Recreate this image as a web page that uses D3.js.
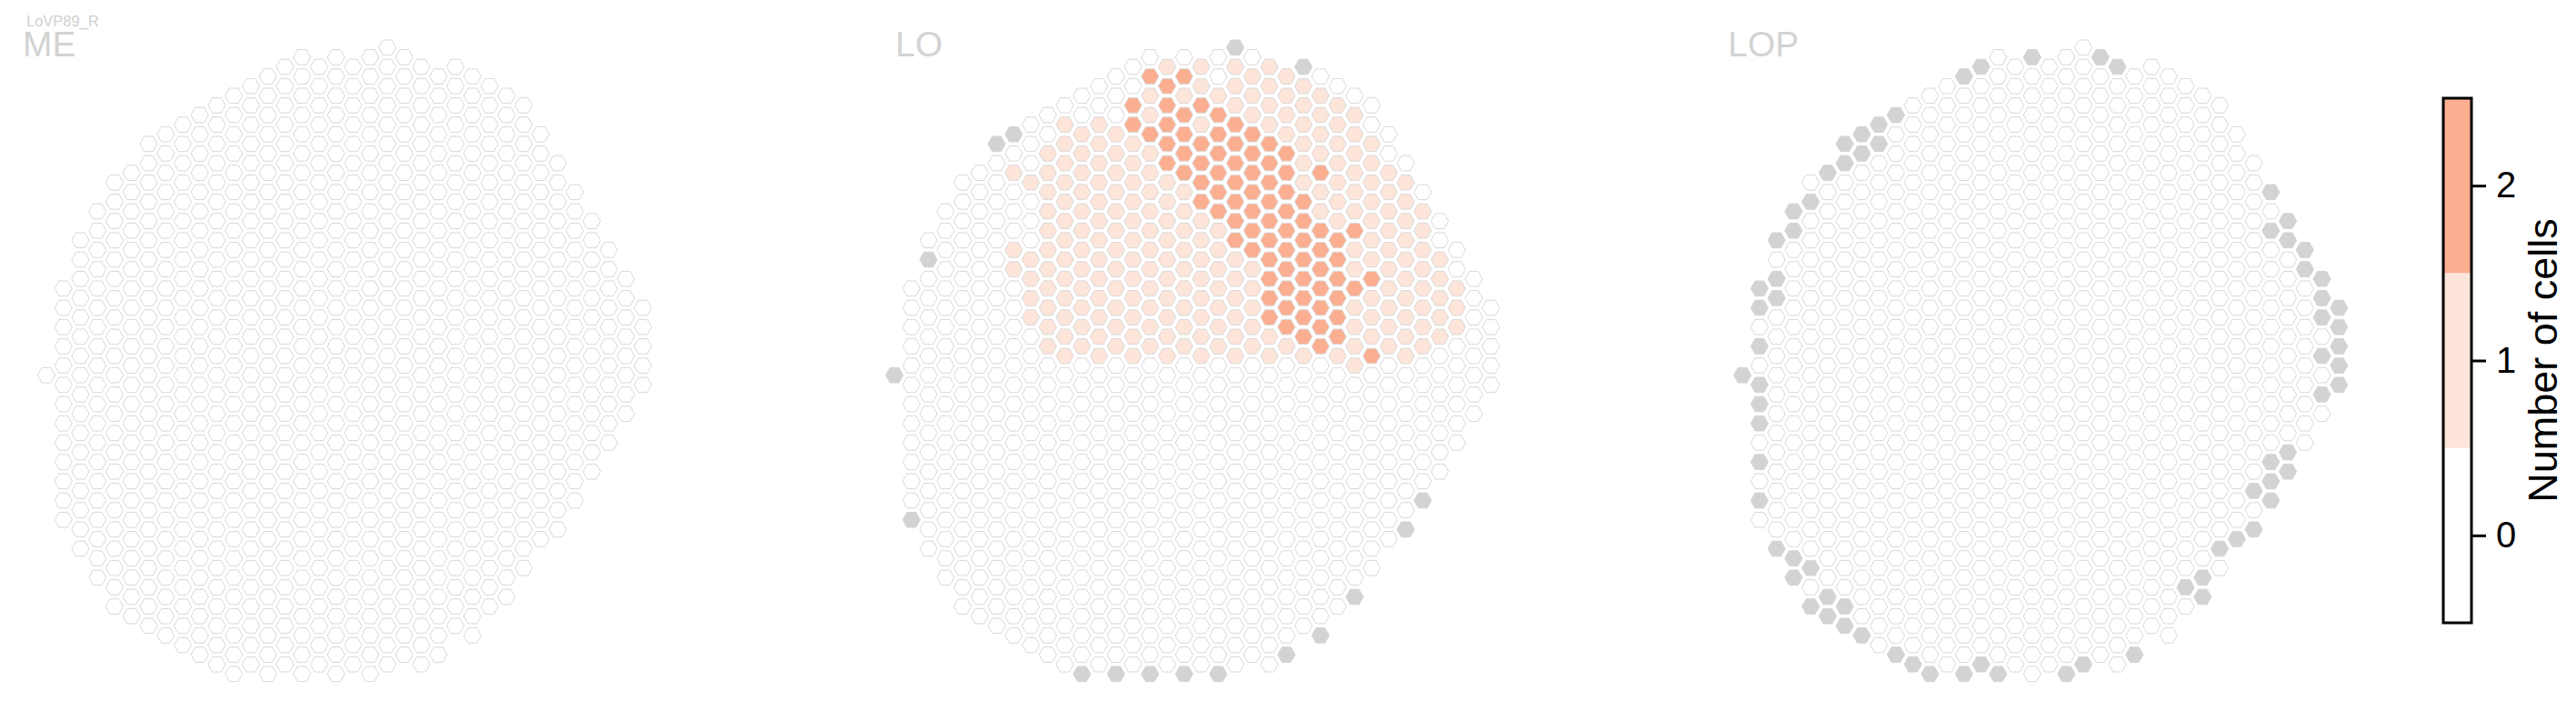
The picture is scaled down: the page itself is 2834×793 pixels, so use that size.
<!DOCTYPE html>
<html><head><meta charset="utf-8">
<script src="https://cdn.jsdelivr.net/npm/d3@7"></script>
<style>body{margin:0;background:#fff}svg{display:block}</style>
</head><body><svg id="chart" width="2834" height="793"></svg>
<script>
// ---- data ----
const cellType = "LoVP89_R";
const panels = ["ME", "LO", "LOP"];
// hex grid: for each column, top and bottom half-row index
const colTop    = [34,25,20,17,14,13,10,9,8,7,6,5,4,3,2,1,2,1,2,1,0,1,2,3,2,3,4,5,6,9,12,15,18,21,24,27];
const colBottom = [34,49,52,55,58,59,60,61,62,63,64,65,64,65,64,65,64,65,64,65,64,63,64,63,60,61,58,57,54,51,50,47,44,41,38,35];
// LO: columns absent (grey)
const loGrey = [[20,0],[24,2],[7,9],[6,10],[2,22],[0,34],[1,49],[11,65],[13,65],[15,65],[17,65],[19,65],[23,63],[25,61],[27,57],[30,50],[31,47]];
// LO: runs of value 1 [col, kFrom, kTo]
const loOne = [[7,13,13],[7,21,23],[8,14,14],[8,22,28],[9,11,31],[10,8,32],[11,9,31],[12,8,32],[13,9,31],[14,10,32],[15,5,31],[16,2,32],[17,5,31],[18,2,32],[19,5,31],[20,2,32],[21,3,31],[22,2,32],[23,3,31],[24,4,32],[25,5,31],[26,6,32],[27,7,33],[28,10,32],[29,13,31],[30,14,32],[31,17,31],[32,22,30],[33,25,29]];
// LO: cells of value 2 [col, k]
const loTwo = [[15,3],[17,3],[16,4],[14,6],[16,6],[18,6],[17,7],[19,7],[14,8],[16,8],[20,8],
[15,9],[17,9],[19,9],[21,9],[16,10],[18,10],[20,10],[22,10],
[17,11],[19,11],[21,11],[23,11],[16,12],[18,12],[20,12],[22,12],
[17,13],[19,13],[21,13],[23,13],[25,13],[18,14],[20,14],[22,14],
[19,15],[21,15],[23,15],[18,16],[20,16],[22,16],[24,16],
[19,17],[21,17],[23,17],[20,18],[22,18],[24,18],
[21,19],[23,19],[25,19],[27,19],[20,20],[22,20],[24,20],[26,20],
[21,21],[23,21],[25,21],[22,22],[24,22],[26,22],
[23,23],[25,23],[22,24],[24,24],[26,24],[28,24],
[23,25],[25,25],[27,25],[22,26],[24,26],[26,26],
[23,27],[25,27],[22,28],[24,28],[26,28],[23,29],[25,29],[24,30],[26,30],[25,31],[28,32]];
// LOP: columns absent (grey)
const lopGrey = [[17,1],[21,1],[14,2],[22,2],[13,3],
[9,7],[8,8],[7,9],[6,10],[8,10],[7,11],[6,12],[5,13],[4,16],[3,17],[3,19],[2,20],[2,24],[1,25],[2,26],[1,27],[1,31],
[0,34],[1,35],[1,37],[1,39],[1,43],[1,47],
[2,52],[3,53],[4,54],[3,55],[5,57],[4,58],[6,58],[5,59],[6,60],[7,61],[9,63],[10,64],
[11,65],[13,65],[14,64],[15,65],[19,65],[20,64],[23,63],
[31,15],[32,18],[31,19],[32,20],[33,21],[33,23],[34,24],[34,26],[35,27],[34,28],[35,29],[35,31],[34,32],[35,33],[35,35],[34,36],
[32,42],[31,43],[32,44],[31,45],[30,46],[31,47],[30,50],[29,51],[28,52],[27,55],[26,56],[27,57]];
const cbTicks = [0, 1, 2];
const cbLabel = "Number of cells";

// ---- build cell tables ----
function baseCells() {
  const cells = [];
  colTop.forEach((t, c) => { for (let k = t; k <= colBottom[c]; k += 2) cells.push({c, k, v: 0, grey: false}); });
  return cells;
}
const key = (c, k) => c + "_" + k;
function panelCells(name) {
  const cells = baseCells();
  const m = new Map(cells.map(d => [key(d.c, d.k), d]));
  if (name === "LO") {
    loOne.forEach(([c, a, b]) => { for (let k = a; k <= b; k += 2) { const d = m.get(key(c, k)); if (d) d.v = 1; } });
    loTwo.forEach(([c, k]) => { const d = m.get(key(c, k)); if (d) d.v = 2; });
    loGrey.forEach(([c, k]) => { const d = m.get(key(c, k)); if (d) d.grey = true; });
  }
  if (name === "LOP") lopGrey.forEach(([c, k]) => { const d = m.get(key(c, k)); if (d) d.grey = true; });
  return cells;
}

// ---- drawing ----
const svg = d3.select("#chart");
const panelX0 = [51, 984, 1917];
const colSpacing = 18.75;
const y = d3.scaleLinear().domain([0, 65]).range([52.3, 741.3]);
const color = d3.scaleThreshold().domain([0.5, 1.5]).range(["#ffffff", "#fee5d9", "#fcae91"]);
const R = 9.6;
const hexPts = d3.range(6).map(i => [R * Math.cos(i * Math.PI / 3), R * Math.sin(i * Math.PI / 3)]);
const hexPath = d3.line()(hexPts) + "Z";
const titleX = [25, 985, 1901];

panels.forEach((name, pi) => {
  const x = d3.scaleLinear().domain([0, 35]).range([panelX0[pi], panelX0[pi] + 35 * colSpacing]);
  const g = svg.append("g");
  g.selectAll("path").data(panelCells(name)).join("path")
    .attr("d", hexPath)
    .attr("transform", d => `translate(${x(d.c)},${y(d.k)})`)
    .attr("fill", d => d.grey ? "#d3d3d3" : color(d.v))
    .attr("stroke", d => d.grey ? "#d3d3d3" : "#d8d8d8")
    .attr("stroke-width", 1);
  svg.append("text").attr("x", titleX[pi]).attr("y", 62)
    .attr("font-family", "Liberation Sans, Arial, sans-serif").attr("font-size", 39)
    .attr("fill", "#d3d3d3").text(name);
});
svg.append("text").attr("x", 29).attr("y", 29)
  .attr("font-family", "Liberation Sans, Arial, sans-serif").attr("font-size", 16.5)
  .attr("fill", "#d0d0d0").text(cellType);

// ---- colorbar ----
const cbX = 2688, cbW = 31;
const yc = d3.scaleLinear().domain([-0.5, 2.5]).range([685, 108]);
const cb = svg.append("g");
cb.selectAll("rect").data(cbTicks).join("rect")
  .attr("x", cbX).attr("width", cbW)
  .attr("y", d => yc(d + 0.5)).attr("height", d => yc(d - 0.5) - yc(d + 0.5))
  .attr("fill", d => color(d));
cb.append("rect").attr("x", cbX).attr("y", yc(2.5)).attr("width", cbW).attr("height", yc(-0.5) - yc(2.5))
  .attr("fill", "none").attr("stroke", "#000").attr("stroke-width", 3);
const ax = cb.append("g").attr("transform", `translate(${cbX + cbW},0)`)
  .call(d3.axisRight(yc).tickValues(cbTicks).tickSize(16).tickPadding(11).tickFormat(d3.format("d")));
ax.select(".domain").remove();
ax.selectAll("line").attr("stroke-width", 3);
ax.selectAll("text").attr("font-family", "Liberation Sans, Arial, sans-serif").attr("font-size", 40).attr("fill", "#000");
svg.append("text").attr("transform", `translate(2813,${yc(1)}) rotate(-90)`)
  .attr("text-anchor", "middle").attr("font-family", "Liberation Sans, Arial, sans-serif")
  .attr("font-size", 45).attr("fill", "#000").text(cbLabel);
</script></body></html>
